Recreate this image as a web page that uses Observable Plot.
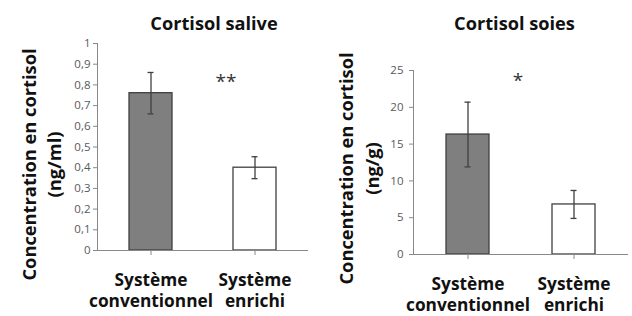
<!DOCTYPE html>
<html><head><meta charset="utf-8">
<script src="https://cdn.jsdelivr.net/npm/d3@7"></script>
<script src="https://cdn.jsdelivr.net/npm/@observablehq/plot@0.6"></script>
<style>
body{margin:0;background:#fff}
#wrap{display:flex;width:632px;height:316px}
</style></head><body><div id="wrap"></div>
<script>
const categories = ["Système\nconventionnel", "Système\nenrichi"];
const barFills = ["#7f7f7f", "#ffffff"];

const salivaTitle = "Cortisol salive";
const salivaLabel = "Concentration en cortisol\n(ng/ml)";
const salivaMeans = [0.76, 0.40];
const salivaErrors = [0.10, 0.053];
const salivaTicks = [0, 0.1, 0.2, 0.3, 0.4, 0.5, 0.6, 0.7, 0.8, 0.9, 1];
const salivaSignif = "**";
const salivaSignifY = 0.815;

const hairTitle = "Cortisol soies";
const hairLabel = "Concentration en cortisol\n(ng/g)";
const hairMeans = [16.3, 6.8];
const hairErrors = [4.4, 1.9];
const hairTicks = [0, 5, 10, 15, 20, 25];
const hairSignif = "*";
const hairSignifY = 23.6;

const fmt = d => String(+d.toFixed(1)).replace(".", ",");

function chart(o) {
  const data = categories.map((c, i) => ({cat: c, mean: o.means[i], lo: o.means[i] - o.errors[i], hi: o.means[i] + o.errors[i], fill: barFills[i]}));
  return Plot.plot({
    width: 316, height: 316,
    marginLeft: 97, marginRight: o.mr, marginTop: o.mt, marginBottom: o.mb,
    style: {fontFamily: "'Open Sans', sans-serif", background: "#fff"},
    x: {domain: categories, paddingInner: 0.59, paddingOuter: 0.3, axis: null},
    y: {domain: [o.ticks[0], o.ticks[o.ticks.length - 1]], axis: null},
    color: {type: "identity"},
    marks: [
      Plot.barY(data, {x: "cat", y: "mean", fill: "fill", stroke: "#404040", strokeWidth: 1.3}),
      Plot.ruleX(data, {x: "cat", y1: "lo", y2: "hi", stroke: "#404040", strokeWidth: 1.3}),
      Plot.tickY(data, {x: "cat", y: "hi", stroke: "#404040", strokeWidth: 1.3, insetLeft: 18.5, insetRight: 18.5}),
      Plot.tickY(data, {x: "cat", y: "lo", stroke: "#404040", strokeWidth: 1.3, insetLeft: 18.5, insetRight: 18.5}),
      Plot.ruleY([0], {stroke: "#888"}),
      Plot.frame({anchor: "left", stroke: "#888"}),
      Plot.axisY({ticks: o.ticks, tickFormat: fmt, tickSize: 4, tickPadding: o.tp, fontSize: 11.5, fill: "#595959", stroke: "#888", label: null}),
      Plot.axisX({tickSize: 5, tickPadding: 16, fontSize: 17.3, fontWeight: "bold", fill: "#111", stroke: "#888", lineHeight: 1.21, dx: o.xdx, label: null}),
      Plot.text([o.title], {frameAnchor: "top", dy: o.tdy, dx: o.tdx, fontSize: 18.2, fontWeight: "bold", fill: "#111"}),
      Plot.text([o.label], {frameAnchor: "left", textAnchor: "middle", rotate: -90, dx: o.ldx, dy: o.ldy, lineAnchor: "middle", lineHeight: 1.38, fontSize: 18.3, fontWeight: "bold", fill: "#111"}),
      Plot.text([o.signif], {x: () => categories[1], y: () => o.sy, dx: o.sdx, fontSize: 19, fill: "#333"})
    ]
  });
}

const wrap = document.getElementById("wrap");
wrap.append(chart({means: salivaMeans, errors: salivaErrors, ticks: salivaTicks, title: salivaTitle, label: salivaLabel, signif: salivaSignif, sy: salivaSignifY, sdx: -29, mr: 8, mt: 43, mb: 66, tp: 3, tdy: -26, tdx: 11, ldx: -57, ldy: 17.5, xdx: 0}));
wrap.append(chart({means: hairMeans, errors: hairErrors, ticks: hairTicks, title: hairTitle, label: hairLabel, signif: hairSignif, sy: hairSignifY, sdx: -56, mr: 4, mt: 70, mb: 62, tp: 6, tdy: -53, tdx: -6.5, ldx: -55.5, ldy: 6, xdx: 0}));
</script></body></html>
